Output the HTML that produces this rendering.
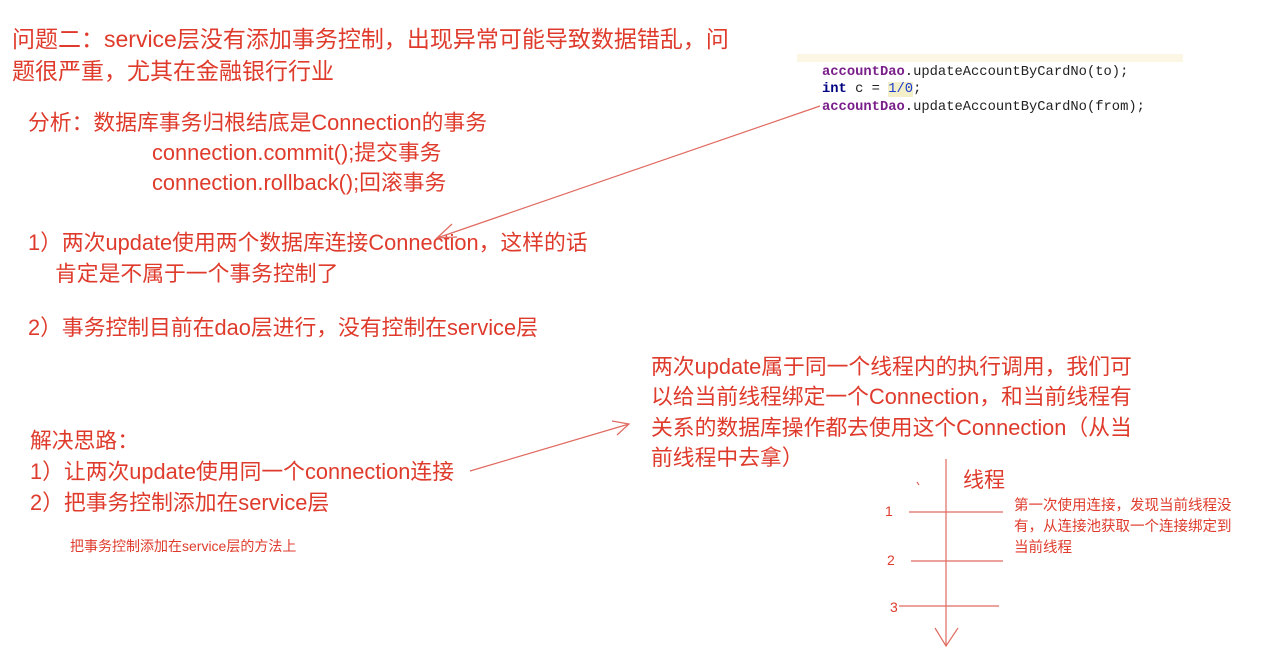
<!DOCTYPE html>
<html><head><meta charset="utf-8"><style>
html,body{margin:0;padding:0;background:#fff;}
body{width:1280px;height:672px;position:relative;overflow:hidden;font-family:"Liberation Sans","Noto Sans CJK SC",sans-serif;color:#df3b2c;}
.t{position:absolute;white-space:nowrap;line-height:1;}
.code{position:absolute;font-family:"Liberation Mono",monospace;font-size:13.8px;color:#222;white-space:nowrap;line-height:1;}
.k{color:#7a1f8a;font-weight:bold}
.b{color:#000080;font-weight:bold}
.m{font-size:21.8px}
</style></head><body>
<div class="t" style="left:12px;top:28px;font-size:23px">问题二：service层没有添加事务控制，出现异常可能导致数据错乱，问</div>
<div class="t" style="left:12px;top:60px;font-size:23px">题很严重，尤其在金融银行行业</div>
<div class="t m" style="left:28px;top:112px">分析：数据库事务归根结底是Connection的事务</div>
<div class="t m" style="left:152px;top:142px">connection.commit();提交事务</div>
<div class="t m" style="left:152px;top:172px">connection.rollback();回滚事务</div>
<div class="t m" style="left:28px;top:232px">1）两次update使用两个数据库连接Connection，这样的话</div>
<div class="t m" style="left:55px;top:263px">肯定是不属于一个事务控制了</div>
<div class="t m" style="left:28px;top:317px">2）事务控制目前在dao层进行，没有控制在service层</div>
<div class="t m" style="left:30px;top:430px">解决思路：</div>
<div class="t m" style="left:30px;top:461px">1）让两次update使用同一个connection连接</div>
<div class="t m" style="left:30px;top:492px">2）把事务控制添加在service层</div>
<div class="t" style="left:70px;top:539px;font-size:14px">把事务控制添加在service层的方法上</div>
<div class="t m" style="left:651px;top:356px">两次update属于同一个线程内的执行调用，我们可</div>
<div class="t m" style="left:651px;top:386px">以给当前线程绑定一个Connection，和当前线程有</div>
<div class="t m" style="left:651px;top:417px">关系的数据库操作都去使用这个Connection（从当</div>
<div class="t m" style="left:651px;top:447px">前线程中去拿）</div>
<div class="t" style="left:963px;top:470px;font-size:21px">线程</div>
<div class="t" style="left:1014px;top:496px;font-size:14.5px;line-height:21px">第一次使用连接，发现当前线程没<br>有，从连接池获取一个连接绑定到<br>当前线程</div>
<div class="t" style="left:885px;top:504px;font-size:14px">1</div>
<div class="t" style="left:887px;top:553px;font-size:14px">2</div>
<div class="t" style="left:890px;top:600px;font-size:14px">3</div>
<div style="position:absolute;left:797px;top:54px;width:386px;height:8px;background:#fbf7e4"></div>
<div class="code" style="left:822px;top:66px"><span class="k">accountDao</span>.updateAccountByCardNo(to);</div>
<div class="code" style="left:822px;top:83px"><span class="b">int</span> c = <span style="background:#f3efc8;color:#1a3ad0">1/0</span>;</div>
<div class="code" style="left:822px;top:101px"><span class="k">accountDao</span>.updateAccountByCardNo(from);</div>
<svg width="1280" height="672" style="position:absolute;left:0;top:0" fill="none" stroke="#e06a60" stroke-width="1.2">
<line x1="820" y1="106" x2="437" y2="238"/>
<polyline points="452,224 437,238 457,237"/>
<line x1="470" y1="471" x2="629" y2="424"/>
<polyline points="612,421 629,424 617,435"/>
<line x1="946" y1="459" x2="946" y2="646"/>
<polyline points="935,628 946,646 958,628"/>
<line x1="909" y1="512" x2="1003" y2="512"/>
<line x1="911" y1="561" x2="1003" y2="561"/>
<line x1="899" y1="606" x2="999" y2="606"/>
<line x1="917" y1="482" x2="919" y2="485"/>
</svg>
</body></html>
